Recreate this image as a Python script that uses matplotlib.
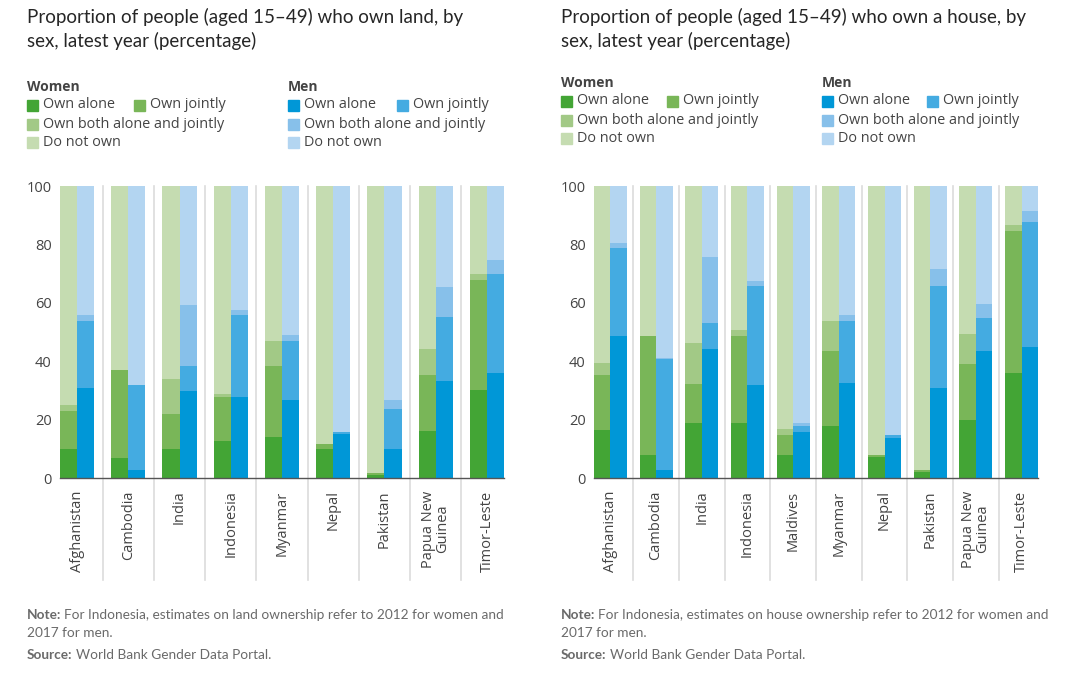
import matplotlib.pyplot as plt
from matplotlib.patches import Rectangle
import numpy as np

land_countries = ['Afghanistan', 'Cambodia', 'India', 'Indonesia', 'Myanmar',
                  'Nepal', 'Pakistan', 'Papua New\nGuinea', 'Timor-Leste']
land_women_alone = [9.8, 6.9, 9.8, 12.7, 14.1, 9.8, 0.9, 16.0, 30.0]
land_women_jointly = [13.3, 30.1, 12.2, 15.1, 24.2, 1.8, 0.9, 19.2, 37.7]
land_women_both = [1.8, 0, 11.8, 0.9, 8.7, 0, 0, 8.9, 2.1]
land_men_alone = [30.8, 2.8, 29.7, 27.8, 26.7, 14.9, 9.8, 33.2, 35.9]
land_men_jointly = [23.0, 28.9, 8.8, 27.9, 20.1, 0.8, 14.0, 22.1, 33.9]
land_men_both = [1.9, 0, 20.7, 2.0, 2.1, 0, 3.0, 10.0, 4.7]

house_countries = ['Afghanistan', 'Cambodia', 'India', 'Indonesia', 'Maldives', 'Myanmar',
                   'Nepal', 'Pakistan', 'Papua New\nGuinea', 'Timor-Leste']
house_women_alone = [16.6, 7.8, 18.7, 18.7, 7.8, 17.9, 7.1, 2.1, 20.0, 35.9]
house_women_jointly = [18.7, 40.9, 13.6, 30.0, 7.0, 25.7, 0.7, 0.8, 19.2, 48.8]
house_women_both = [4.2, 0, 14.0, 2.0, 2.1, 10.1, 0, 0, 10.2, 2.0]
house_men_alone = [48.7, 2.7, 44.2, 31.7, 15.8, 32.7, 13.8, 30.9, 43.6, 44.7]
house_men_jointly = [29.9, 38.0, 8.9, 34.2, 2.1, 20.9, 1.0, 34.9, 11.2, 43.0]
house_men_both = [2.0, 0.3, 22.7, 1.7, 0.8, 2.2, 0, 5.8, 4.8, 3.9]

categories = ['Own alone', 'Own jointly', 'Own both alone and jointly', 'Do not own']
women_colors = ['#43a535', '#79b658', '#a2c986', '#c5dcb1']
men_colors = ['#0097d7', '#44abe1', '#87c0ea', '#b3d5f1']

title_font = 'Lato'
body_font = 'Open Sans'
dark = '#262626'
grey = '#6a6a6a'

fig = plt.figure(figsize=(10.8, 6.92), dpi=100)
W, H = 1080, 692


def fx(px):
    return px / W


def fy(py):
    return 1 - py / H


def stack(ax, x, parts, colors, w):
    parts = list(parts) + [100 - sum(parts)]
    bottom = 0
    for p, c in zip(parts, colors):
        ax.bar(x, p, width=w, bottom=bottom, color=c, align='edge', linewidth=0)
        bottom += p


def panel(left_px, w, countries, wa, wj, wb, ma, mj, mb):
    n = len(countries)
    ax = fig.add_axes([fx(left_px), fy(478), 444 / W, 292 / H])
    for i in range(n):
        stack(ax, i - w, [wa[i], wj[i], wb[i]], women_colors, w)
        stack(ax, i, [ma[i], mj[i], mb[i]], men_colors, w)
    for i in range(n - 1):
        ax.axvline(i + 0.5, ymin=-0.35, ymax=1, color='#dcdcdc', lw=1.2, clip_on=False, zorder=0)
    ax.set_xlim(-w, n - 1 + w)
    ax.set_ylim(0, 100)
    ax.set_yticks(np.arange(0, 101, 20))
    ax.set_xticks(range(n))
    ax.set_xticklabels(countries, rotation=90, fontfamily=body_font, fontsize=10.5,
                       color='#3a3a3a', va='top', ha='center', linespacing=0.9)
    ax.tick_params(axis='both', length=0, labelsize=10.5, labelcolor='#444444')
    ax.tick_params(axis='x', pad=9, labelsize=10.5)
    ax.tick_params(axis='y', pad=6)
    for lab in ax.get_yticklabels():
        lab.set_fontfamily(body_font)
    for s in ['top', 'right', 'left']:
        ax.spines[s].set_visible(False)
    ax.spines['bottom'].set_color('#555555')
    ax.spines['bottom'].set_linewidth(1)
    return ax


def legend(x0, y0, xj, xm, xmj):
    sq = 11
    rows = [y0 + 18, y0 + 37, y0 + 55]
    for xx, head, cols in [(x0, 'Women', women_colors), (xm, 'Men', men_colors)]:
        fig.text(fx(xx), fy(y0), head, fontfamily=body_font, fontweight='bold',
                 fontsize=10, color='#444444', va='center')
        jx = xj if head == 'Women' else xmj
        spots = [(xx, rows[0]), (jx, rows[0]), (xx, rows[1]), (xx, rows[2])]
        for (sx, sy), lab, c in zip(spots, categories, cols):
            fig.patches.append(Rectangle((fx(sx), fy(sy + sq / 2)), sq / W, sq / H,
                                         transform=fig.transFigure, color=c))
            fig.text(fx(sx + 16), fy(sy), lab, fontfamily=body_font, fontsize=10.4,
                     color='#444444', va='center')


def notes(x0, what):
    r = fig.canvas.get_renderer()
    size = 9.8
    t = fig.text(fx(x0), fy(615), 'Note:', fontfamily=title_font, fontweight='bold',
                 fontsize=size, color=grey, va='center')
    bw = t.get_window_extent(r).width
    fig.text(fx(x0 + bw + 3), fy(615),
             'For Indonesia, estimates on ' + what + ' ownership refer to 2012 for women and',
             fontfamily=title_font, fontsize=size, color=grey, va='center')
    fig.text(fx(x0), fy(633), '2017 for men.', fontfamily=title_font, fontsize=size,
             color=grey, va='center')
    t = fig.text(fx(x0), fy(655), 'Source:', fontfamily=title_font, fontweight='bold',
                 fontsize=size, color=grey, va='center')
    bw = t.get_window_extent(r).width
    fig.text(fx(x0 + bw + 3), fy(655), 'World Bank Gender Data Portal.',
             fontfamily=title_font, fontsize=size, color=grey, va='center')


panel(60, 0.333, land_countries, land_women_alone, land_women_jointly, land_women_both,
      land_men_alone, land_men_jointly, land_men_both)
panel(594, 0.36, house_countries, house_women_alone, house_women_jointly, house_women_both,
      house_men_alone, house_men_jointly, house_men_both)

fig.text(fx(27), fy(29), 'Proportion of people (aged 15\u201349) who own land, by\nsex, latest year (percentage)',
         fontfamily=title_font, fontsize=13.5, color=dark, va='center', linespacing=1.45)
fig.text(fx(561), fy(29), 'Proportion of people (aged 15\u201349) who own a house, by\nsex, latest year (percentage)',
         fontfamily=title_font, fontsize=13.5, color=dark, va='center', linespacing=1.45)

legend(27, 87, 134, 288, 397)
legend(561, 83, 667, 822, 927)

notes(27, 'land')
notes(561, 'house')

fig.savefig('out.png', dpi=100)
